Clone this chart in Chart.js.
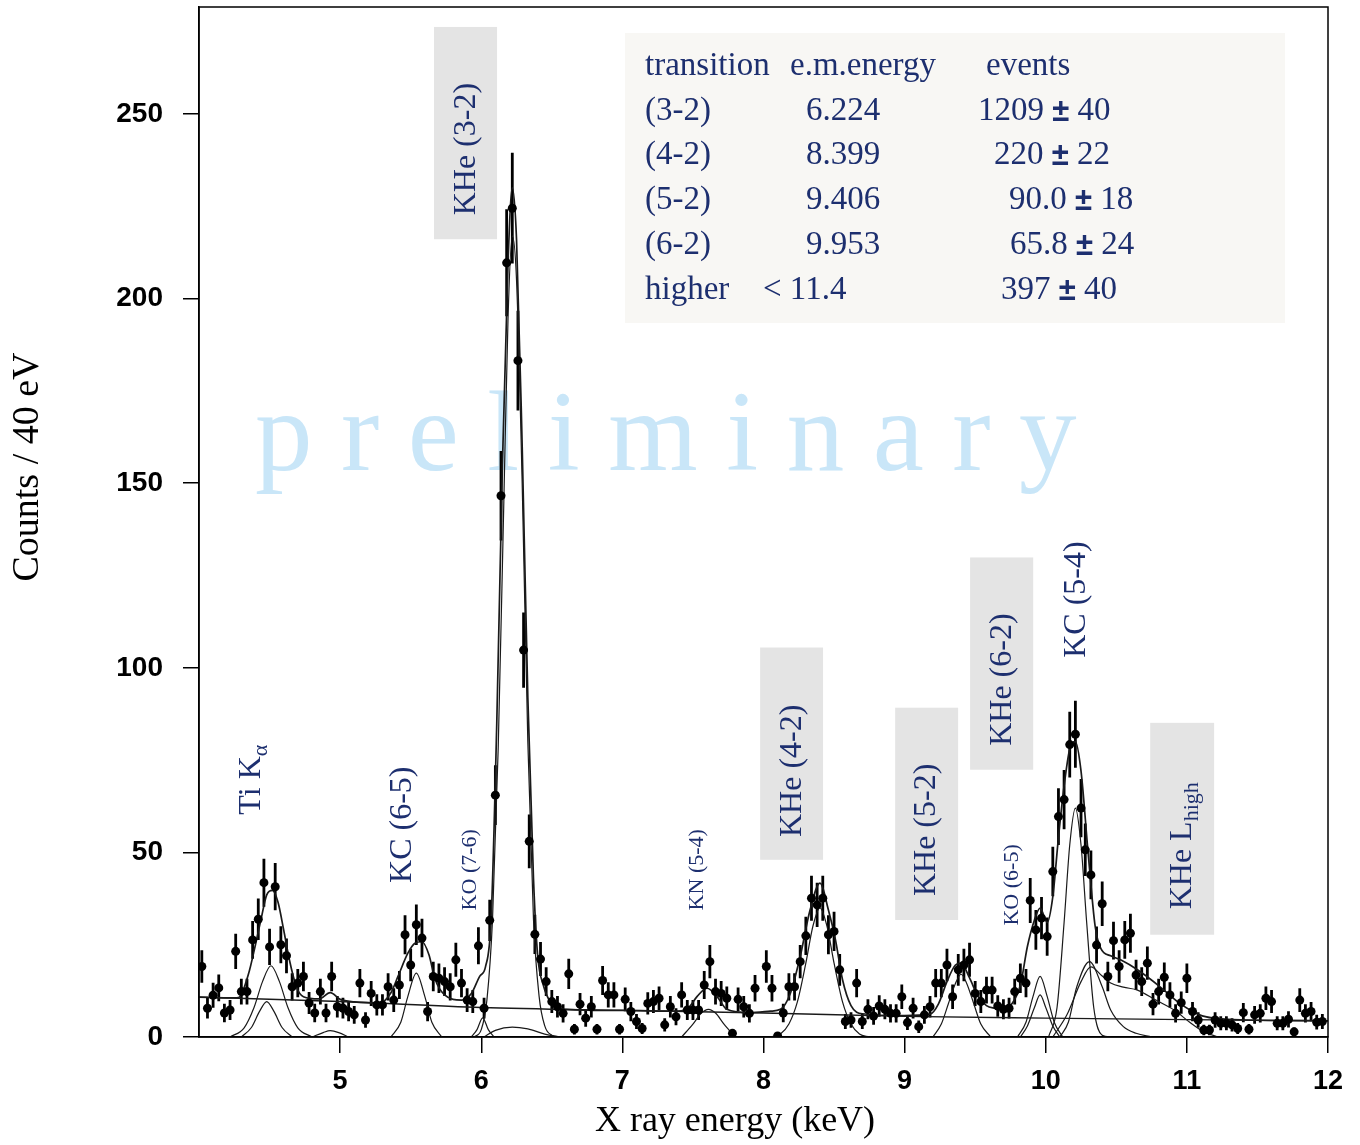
<!DOCTYPE html>
<html>
<head>
<meta charset="utf-8">
<script src="https://cdn.jsdelivr.net/npm/chart.js@4.4.1/dist/chart.umd.min.js"></script>
<style>
  html, body { margin: 0; padding: 0; background: #fff; }
</style>
</head>
<body>
<canvas id="spectrum" width="1360" height="1145"></canvas>
<script>
// measured spectrum, 40 eV bins
const energy = [
  4.02, 4.06, 4.10, 4.14, 4.18, 4.22, 4.26, 4.30, 4.34, 4.38,
  4.42, 4.46, 4.50, 4.54, 4.58, 4.62, 4.66, 4.70, 4.74, 4.78,
  4.82, 4.86, 4.90, 4.94, 4.98, 5.02, 5.06, 5.10, 5.14, 5.18,
  5.22, 5.26, 5.30, 5.34, 5.38, 5.42, 5.46, 5.50, 5.54, 5.58,
  5.62, 5.66, 5.70, 5.74, 5.78, 5.82, 5.86, 5.90, 5.94, 5.98,
  6.02, 6.06, 6.10, 6.14, 6.18, 6.22, 6.26, 6.30, 6.34, 6.38,
  6.42, 6.46, 6.50, 6.54, 6.58, 6.62, 6.66, 6.70, 6.74, 6.78,
  6.82, 6.86, 6.90, 6.94, 6.98, 7.02, 7.06, 7.10, 7.14, 7.18,
  7.22, 7.26, 7.30, 7.34, 7.38, 7.42, 7.46, 7.50, 7.54, 7.58,
  7.62, 7.66, 7.70, 7.74, 7.78, 7.82, 7.86, 7.90, 7.94, 8.02,
  8.06, 8.10, 8.14, 8.18, 8.22, 8.26, 8.30, 8.34, 8.38, 8.42,
  8.46, 8.50, 8.54, 8.58, 8.62, 8.66, 8.70, 8.74, 8.78, 8.82,
  8.86, 8.90, 8.94, 8.98, 9.02, 9.06, 9.10, 9.14, 9.18, 9.22,
  9.26, 9.30, 9.34, 9.38, 9.42, 9.46, 9.50, 9.54, 9.58, 9.62,
  9.66, 9.70, 9.74, 9.78, 9.82, 9.86, 9.89, 9.93, 9.97, 10.01,
  10.05, 10.09, 10.13, 10.17, 10.21, 10.25, 10.28, 10.32, 10.36, 10.40,
  10.44, 10.48, 10.52, 10.56, 10.60, 10.64, 10.68, 10.72, 10.76, 10.80,
  10.84, 10.88, 10.92, 10.96, 11.00, 11.04, 11.08, 11.12, 11.16, 11.20,
  11.24, 11.28, 11.32, 11.36, 11.40, 11.44, 11.48, 11.52, 11.56, 11.60,
  11.64, 11.68, 11.72, 11.76, 11.80, 11.84, 11.88, 11.92, 11.96
];
const counts = [
  19.1, 7.8, 11.3, 13.3, 6.5, 7.3, 23.2, 12.3, 12.3, 26.3,
  31.9, 41.8, 24.4, 40.7, 25.0, 22.0, 13.6, 14.6, 16.4, 9.2,
  6.5, 12.3, 6.5, 16.4, 8.2, 7.8, 6.9, 6.0, 14.6, 4.6,
  11.8, 8.7, 8.7, 13.6, 10.0, 14.1, 27.7, 19.5, 30.4, 26.8,
  6.9, 16.4, 15.9, 15.0, 13.6, 20.9, 14.6, 10.0, 9.6, 24.7,
  7.8, 31.6, 65.5, 146.6, 209.7, 224.5, 183.2, 104.8, 53.0, 27.8,
  21.1, 15.0, 9.6, 8.2, 6.4, 17.1, 2.1, 8.9, 5.1, 8.2,
  2.1, 15.3, 11.4, 11.4, 2.1, 10.2, 6.9, 4.2, 2.3, 9.1,
  9.6, 10.5, 3.3, 8.2, 5.5, 11.4, 7.3, 7.3, 7.3, 14.1,
  20.4, 12.3, 11.8, 10.5, 1.0, 10.2, 8.2, 6.4, 13.2, 19.1,
  13.2, 0.3, 6.5, 13.6, 13.6, 20.4, 27.4, 37.6, 35.8, 37.6,
  27.7, 28.6, 18.2, 4.2, 4.6, 14.6, 4.2, 7.5, 5.7, 8.4,
  7.5, 6.4, 6.4, 10.9, 3.9, 7.8, 2.8, 6.0, 8.2, 14.6,
  14.6, 19.5, 10.9, 18.2, 19.5, 20.9, 11.8, 9.6, 12.7, 12.7,
  8.4, 7.5, 7.8, 12.3, 15.9, 14.6, 37.0, 29.0, 32.2, 27.2,
  44.8, 59.7, 64.3, 79.2, 82.0, 62.0, 50.7, 43.9, 24.9, 36.1,
  16.4, 26.1, 19.1, 26.3, 28.1, 16.8, 15.0, 20.0, 8.9, 12.3,
  16.2, 11.4, 6.4, 9.3, 15.9, 6.9, 4.6, 1.9, 1.9, 4.6,
  3.7, 3.7, 3.3, 2.3, 6.6, 2.1, 6.0, 6.4, 10.5, 9.6,
  3.7, 3.7, 4.8, 1.4, 10.0, 6.4, 6.9, 4.0, 4.2
];
const errors = [
  4.4, 2.8, 3.4, 3.6, 2.5, 2.7, 4.8, 3.5, 3.5, 5.1,
  5.6, 6.5, 4.9, 6.4, 5.0, 4.7, 3.7, 3.8, 4.0, 3.0,
  2.5, 3.5, 2.5, 4.0, 2.9, 2.8, 2.6, 2.4, 3.8, 2.1,
  3.4, 2.9, 2.9, 3.7, 3.2, 3.8, 5.3, 4.4, 5.5, 5.2,
  2.6, 4.0, 4.0, 3.9, 3.7, 4.6, 3.8, 3.2, 3.1, 5.0,
  2.8, 5.6, 8.1, 12.1, 14.5, 15.0, 13.5, 10.2, 7.3, 5.3,
  4.6, 3.9, 3.1, 2.9, 2.5, 4.1, 1.4, 3.0, 2.3, 2.9,
  1.4, 3.9, 3.4, 3.4, 1.4, 3.2, 2.6, 2.0, 1.5, 3.0,
  3.1, 3.2, 1.8, 2.9, 2.3, 3.4, 2.7, 2.7, 2.7, 3.8,
  4.5, 3.5, 3.4, 3.2, 1.0, 3.2, 2.9, 2.5, 3.6, 4.4,
  3.6, 0.6, 2.5, 3.7, 3.7, 4.5, 5.2, 6.1, 6.0, 6.1,
  5.3, 5.3, 4.3, 2.0, 2.1, 3.8, 2.0, 2.7, 2.4, 2.9,
  2.7, 2.5, 2.5, 3.3, 2.0, 2.8, 1.7, 2.4, 2.9, 3.8,
  3.8, 4.4, 3.3, 4.3, 4.4, 4.6, 3.4, 3.1, 3.6, 3.6,
  2.9, 2.7, 2.8, 3.5, 4.0, 3.8, 6.1, 5.4, 5.7, 5.2,
  6.7, 7.7, 8.0, 8.9, 9.1, 7.9, 7.1, 6.6, 5.0, 6.0,
  4.0, 5.1, 4.4, 5.1, 5.3, 4.1, 3.9, 4.5, 3.0, 3.5,
  4.0, 3.4, 2.5, 3.0, 4.0, 2.6, 2.1, 1.4, 1.4, 2.1,
  1.9, 1.9, 1.8, 1.5, 2.6, 1.4, 2.4, 2.5, 3.2, 3.1,
  1.9, 1.9, 2.2, 1.2, 3.2, 2.5, 2.6, 2.0, 2.0
];

// fit curves: [keV, counts]
const totalFit = [
  [4.00, 10.8], [4.20, 10.6], [4.28, 10.7], [4.35, 17], [4.40, 25], [4.44, 32], [4.48, 38.5],
  [4.52, 39.7], [4.56, 36.5], [4.60, 29], [4.64, 21], [4.69, 13.6], [4.74, 10.9], [4.85, 10.3],
  [4.93, 12], [5.00, 10.2], [5.10, 9.5], [5.28, 9.2], [5.36, 12], [5.41, 16.4], [5.48, 22.7],
  [5.53, 25.4], [5.58, 25.8], [5.63, 22.2], [5.67, 16], [5.74, 11.4], [5.86, 10], [5.93, 11.8],
  [5.99, 16.5], [6.03, 19], [6.07, 32], [6.11, 85], [6.15, 155], [6.19, 210], [6.22, 230],
  [6.25, 216], [6.29, 160], [6.33, 92], [6.37, 43], [6.40, 22], [6.44, 14], [6.49, 9.5],
  [6.60, 7.5], [7.00, 7.2], [7.40, 7.0], [7.47, 8], [7.53, 11], [7.60, 13.2], [7.67, 11],
  [7.74, 7.5], [7.90, 6.6], [8.05, 7], [8.12, 7.5], [8.19, 11.8], [8.26, 21.8], [8.33, 34.4],
  [8.40, 41.7], [8.46, 34.4], [8.51, 26.3], [8.56, 15.5], [8.62, 8.5], [8.70, 6.3], [9.00, 5.8],
  [9.18, 6.2], [9.24, 9], [9.30, 15], [9.36, 19.5], [9.40, 20], [9.46, 16], [9.52, 11],
  [9.58, 8.5], [9.64, 7.8], [9.70, 7.5], [9.76, 9], [9.82, 14], [9.87, 24.5], [9.92, 31.7],
  [9.96, 34.9], [10.01, 31], [10.05, 38], [10.09, 54], [10.13, 68], [10.17, 78], [10.21, 80],
  [10.25, 72], [10.30, 50], [10.35, 30], [10.39, 24], [10.46, 22], [10.53, 20.9], [10.65, 18.2],
  [10.81, 13.6], [10.95, 9.1], [11.09, 6], [11.19, 5.1], [11.40, 4.6], [12.00, 4.4]
];
const background = [[4.0, 10.8], [5.0, 9.6], [6.0, 8.0], [7.0, 7.2], [8.0, 6.5], [9.0, 5.6], [10.0, 5.1], [11.0, 4.7], [12.0, 4.4]];
const tiKa1 = [[4.22, 0], [4.32, 2.5], [4.39, 8], [4.45, 15], [4.51, 19.3], [4.57, 15], [4.63, 8], [4.70, 2.5], [4.80, 0]];
const tiKa2 = [[4.30, 0], [4.37, 2.5], [4.43, 7], [4.48, 9.6], [4.53, 7], [4.59, 2.5], [4.66, 0]];
const bump495 = [[4.80, 0], [4.88, 1.2], [4.93, 1.7], [4.99, 1.2], [5.06, 0]];
const kc65 = [[5.36, 0], [5.43, 4], [5.48, 11], [5.54, 17.3], [5.60, 11], [5.65, 4], [5.72, 0]];
const ko76 = [[5.93, 0], [5.97, 2], [6.01, 5.2], [6.05, 2], [6.09, 0]];
const satBump = [[6.02, 0], [6.10, 1.8], [6.22, 2.7], [6.33, 2.2], [6.45, 0.8], [6.56, 0]];
const khe32 = [[5.95, 0], [6.00, 2], [6.04, 10], [6.08, 32], [6.12, 78], [6.16, 145], [6.19, 195], [6.22, 217],
  [6.25, 205], [6.29, 150], [6.33, 80], [6.37, 32], [6.41, 11], [6.45, 3], [6.50, 0.5], [6.56, 0]];
const kn54 = [[7.42, 0], [7.50, 3.5], [7.56, 6.5], [7.61, 7.5], [7.66, 6.5], [7.72, 3.5], [7.80, 0]];
const khe42 = [[8.05, 0], [8.12, 0.8], [8.18, 3.5], [8.24, 9.5], [8.30, 20], [8.35, 30], [8.40, 35], [8.45, 30],
  [8.50, 20], [8.56, 9.5], [8.62, 3.5], [8.68, 0.8], [8.75, 0]];
const khe52 = [[9.20, 0], [9.26, 3.5], [9.31, 9], [9.36, 14.5], [9.40, 17], [9.44, 14.5], [9.49, 9], [9.54, 3.5], [9.61, 0]];
const khe62 = [[9.80, 0], [9.86, 4], [9.91, 11], [9.96, 16.4], [10.01, 11], [10.06, 4], [10.12, 0]];
const ko65 = [[9.82, 0], [9.87, 3], [9.92, 8], [9.96, 11.4], [10.00, 8], [10.05, 3], [10.10, 0]];
const kc54 = [[10.02, 0], [10.08, 8], [10.13, 31], [10.17, 52], [10.21, 62], [10.25, 52], [10.29, 31], [10.34, 8], [10.40, 0.5], [10.46, 0]];
const khe72 = [[10.10, 0], [10.16, 4], [10.22, 13.6], [10.31, 20.4], [10.40, 13.6], [10.46, 7.3], [10.55, 2.8], [10.64, 1], [10.75, 0]];
const kheHigh = [[10.05, 0], [10.15, 6], [10.25, 15], [10.32, 19], [10.40, 16.5], [10.46, 14.6], [10.55, 13.5],
  [10.65, 12.7], [10.78, 10], [10.91, 7.3], [11.02, 4], [11.12, 1.4], [11.22, 0]];

const xTicks = [5, 6, 7, 8, 9, 10, 11, 12];
const yTicks = [0, 50, 100, 150, 200, 250];

const tableHead = ['transition', 'e.m.energy', 'events'];
const tableRows = [
  ['(3-2)', '6.224', '1209', '40'],
  ['(4-2)', '8.399', '220', '22'],
  ['(5-2)', '9.406', '90.0', '18'],
  ['(6-2)', '9.953', '65.8', '24'],
  ['higher', '< 11.4', '397', '40']
];

// peak labels, placed in data units (keV, counts)
const peakLabels = [
  { text: 'Ti K', sub: 'α', x: 4.376, y: 69.7, size: 32 },
  { text: 'KC (6-5)', x: 5.446, y: 57.5, size: 32 },
  { text: 'KO (7-6)', x: 5.921, y: 45.3, size: 22 },
  { text: 'KHe (3-2)', x: 5.899, y: 240.5, size: 32, box: [5.665, 6.112, 216.1, 273.6] },
  { text: 'KN (5-4)', x: 7.529, y: 45.3, size: 22 },
  { text: 'KHe (4-2)', x: 8.203, y: 72.1, size: 32, box: [7.976, 8.422, 48.0, 105.5] },
  { text: 'KHe (5-2)', x: 9.159, y: 56.1, size: 32, box: [8.933, 9.379, 31.7, 89.2] },
  { text: 'KO (6-5)', x: 9.762, y: 41.2, size: 22 },
  { text: 'KHe (6-2)', x: 9.691, y: 96.8, size: 32, box: [9.464, 9.911, 72.4, 129.9] },
  { text: 'KC (5-4)', x: 10.222, y: 118.5, size: 32 },
  { text: 'KHe L', sub: 'high', x: 10.967, y: 51.8, size: 32, box: [10.740, 11.193, 27.7, 85.1] }
];

const NAVY = '#1d2f6f';
const SERIF = '"Liberation Serif", "Times New Roman", serif';

function vertText(ctx, cx, cy, text, sub, size) {
  ctx.save();
  ctx.translate(cx, cy);
  ctx.rotate(-Math.PI / 2);
  ctx.textAlign = 'left';
  ctx.textBaseline = 'middle';
  const mainFont = size + 'px ' + SERIF;
  const subFont = Math.round(size * 0.68) + 'px ' + SERIF;
  ctx.font = mainFont;
  const w1 = ctx.measureText(text).width;
  let w2 = 0;
  if (sub) { ctx.font = subFont; w2 = ctx.measureText(sub).width; }
  const start = -(w1 + w2) / 2;
  ctx.font = mainFont;
  ctx.fillText(text, start, 0);
  if (sub) {
    ctx.font = subFont;
    ctx.fillText(sub, start + w1, size * 0.3);
  }
  ctx.restore();
}

// "a ± b" with a heavier plus-minus sign
function pmText(ctx, x0, yy, a, b) {
  ctx.font = '33px ' + SERIF;
  ctx.fillText(a + ' ', x0, yy);
  let cx = x0 + ctx.measureText(a + ' ').width;
  ctx.font = 'bold 31px "Liberation Sans", sans-serif';
  ctx.fillText('±', cx, yy + 1);
  cx += ctx.measureText('±').width;
  ctx.font = '33px ' + SERIF;
  ctx.fillText(' ' + b, cx, yy);
}

const decor = {
  id: 'decor',
  beforeDatasetsDraw(chart) {
    const { ctx, chartArea: a, scales: { x, y } } = chart;
    ctx.save();

    // watermark
    ctx.fillStyle = '#c9e6f8';
    ctx.font = '115px ' + SERIF;
    ctx.textBaseline = 'alphabetic';
    ctx.textAlign = 'left';
    let px = 255;
    for (const ch of 'preliminary') {
      ctx.fillText(ch, px, 470);
      px += ctx.measureText(ch).width + 28.5;
    }

    // results table
    ctx.fillStyle = '#f8f7f4';
    ctx.fillRect(625, 33, 660, 290);
    ctx.fillStyle = NAVY;
    ctx.font = '33px ' + SERIF;
    ctx.textBaseline = 'middle';
    ctx.fillText(tableHead[0], 645, 66);
    ctx.fillText(tableHead[1], 790, 66);
    ctx.fillText(tableHead[2], 986, 66);
    const col2 = [806, 806, 806, 806, 763];
    const col3 = [978, 994, 1009, 1010, 1001];
    tableRows.forEach((r, i) => {
      const ry = 111 + i * 44.8;
      ctx.font = '33px ' + SERIF;
      ctx.fillText(r[0], 645, ry);
      ctx.fillText(r[1], col2[i], ry);
      pmText(ctx, col3[i], ry, r[2], r[3]);
    });

    // label boxes and labels
    peakLabels.forEach(l => {
      if (l.box) {
        const [x0, x1, y0, y1] = l.box;
        ctx.fillStyle = '#e4e4e4';
        ctx.fillRect(x.getPixelForValue(x0), y.getPixelForValue(y1),
          x.getPixelForValue(x1) - x.getPixelForValue(x0), y.getPixelForValue(y0) - y.getPixelForValue(y1));
      }
      ctx.fillStyle = NAVY;
      vertText(ctx, x.getPixelForValue(l.x), y.getPixelForValue(l.y), l.text, l.sub, l.size);
    });

    // error bars
    ctx.beginPath();
    ctx.rect(a.left, a.top, a.right - a.left, a.bottom - a.top);
    ctx.clip();
    ctx.strokeStyle = '#000';
    ctx.lineWidth = 2.8;
    ctx.beginPath();
    energy.forEach((e, i) => {
      const ex = x.getPixelForValue(e);
      ctx.moveTo(ex, y.getPixelForValue(counts[i] - errors[i]));
      ctx.lineTo(ex, y.getPixelForValue(counts[i] + errors[i]));
    });
    ctx.stroke();
    ctx.restore();
  },
  afterDraw(chart) {
    const { ctx, chartArea: a } = chart;
    ctx.save();
    ctx.strokeStyle = '#000';
    ctx.lineWidth = 1.5;
    ctx.strokeRect(a.left, a.top, a.right - a.left, a.bottom - a.top);

    ctx.fillStyle = '#000';
    ctx.textAlign = 'center';
    ctx.textBaseline = 'middle';
    ctx.font = '36px ' + SERIF;
    ctx.fillText('X ray energy (keV)', 735, 1122);
    ctx.translate(28, 467);
    ctx.rotate(-Math.PI / 2);
    ctx.font = '38px ' + SERIF;
    ctx.fillText('Counts / 40 eV', 0, 0);
    ctx.restore();
  }
};

const toXY = pts => pts.map(([px, py]) => ({ x: px, y: py }));
const curve = (pts, width) => ({
  type: 'line',
  data: toXY(pts),
  borderColor: '#1a1a1a',
  borderWidth: width || 1.2,
  pointRadius: 0,
  fill: false,
  cubicInterpolationMode: 'monotone',
  order: 2
});

const components = [tiKa1, tiKa2, bump495, kc65, ko76, satBump, khe32, kn54, khe42, khe52, khe62, ko65, kc54, khe72, kheHigh];

new Chart(document.getElementById('spectrum'), {
  type: 'scatter',
  data: {
    datasets: [
      {
        data: energy.map((e, i) => ({ x: e, y: counts[i] })),
        pointRadius: 4.5,
        pointBackgroundColor: '#000',
        pointBorderColor: '#000',
        pointBorderWidth: 0,
        order: 0
      },
      curve(totalFit, 1.7),
      curve(background, 1.4),
      ...components.map(c => curve(c, 1.2))
    ]
  },
  options: {
    responsive: false,
    animation: false,
    devicePixelRatio: 1,
    layout: { padding: { top: 7, right: 32, left: 0, bottom: 0 } },
    plugins: { legend: { display: false }, tooltip: { enabled: false } },
    scales: {
      x: {
        type: 'linear',
        min: 4,
        max: 12,
        afterFit: s => { s.height = 108; s.paddingLeft = 0; s.paddingRight = 0; },
        afterBuildTicks: s => { s.ticks = xTicks.map(v => ({ value: v })); },
        grid: { drawOnChartArea: false, tickLength: 16, color: '#000', lineWidth: 1.5 },
        border: { color: '#000', width: 1.5 },
        ticks: { color: '#000', padding: 12, maxRotation: 0, font: { family: 'Liberation Sans', weight: 'bold', size: 27 } }
      },
      y: {
        type: 'linear',
        min: 0,
        max: 279,
        afterFit: s => { s.width = 199; s.paddingTop = 0; s.paddingBottom = 0; },
        afterBuildTicks: s => { s.ticks = yTicks.map(v => ({ value: v })); },
        grid: { drawOnChartArea: false, tickLength: 16, color: '#000', lineWidth: 1.5 },
        border: { color: '#000', width: 1.5 },
        ticks: { color: '#000', padding: 20, font: { family: 'Liberation Sans', weight: 'bold', size: 28 } }
      }
    }
  },
  plugins: [decor]
});
</script>
</body>
</html>
